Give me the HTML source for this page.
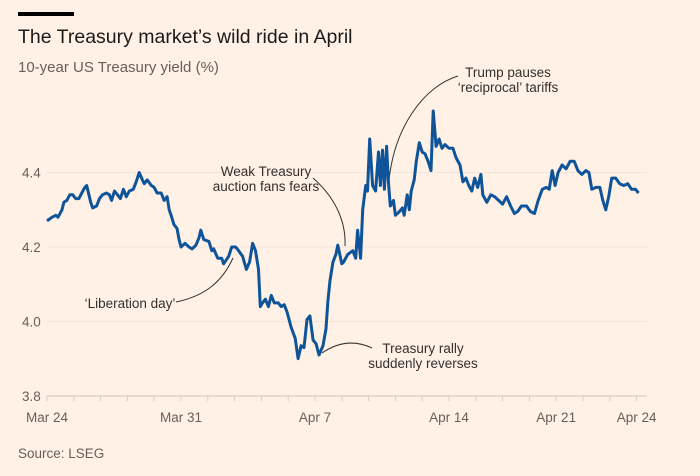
<!DOCTYPE html>
<html><head><meta charset="utf-8"><style>
html,body{margin:0;padding:0;background:#fff1e5;}
svg{display:block;font-family:"Liberation Sans",sans-serif;}
</style></head><body>
<svg id="chart" width="700" height="476" viewBox="0 0 700 476">
<rect x="0" y="0" width="700" height="476" fill="#fff1e5"/>
<rect x="18" y="12" width="56" height="4" fill="#000"/>
<text x="18" y="43" font-size="19.5" fill="#1a1a1a">The Treasury market’s wild ride in April</text>
<text x="18" y="72" font-size="15" fill="#66605c">10-year US Treasury yield (%)</text>
<g id="grid"></g>
<g id="annotations" fill="none" stroke="#333" stroke-width="1">
<path d="M313,178 C338,200 346,225 345,246"/>
<path d="M176,302 C205,296 222,282 233,258"/>
<path d="M322,353 C338,342 355,340 372,348"/>
<path d="M458,76 C425,86 395,125 389,180"/>
</g>
<g font-size="13.5" fill="#33302e">
<text x="266" y="176" text-anchor="middle">Weak Treasury</text>
<text x="266" y="191" text-anchor="middle">auction fans fears</text>
<text x="130" y="308" text-anchor="middle">‘Liberation day’</text>
<text x="423" y="353" text-anchor="middle">Treasury rally</text>
<text x="423" y="368" text-anchor="middle">suddenly reverses</text>
<text x="508" y="77" text-anchor="middle">Trump pauses</text>
<text x="508" y="92" text-anchor="middle">‘reciprocal’ tariffs</text>
</g>
<g id="series"></g>
<text x="18" y="458" font-size="13.5" fill="#66605c">Source: LSEG</text>
</svg>
<script>
const yTicks = [3.8, 4.0, 4.2, 4.4];
const yTickLabels = ["3.8", "4.0", "4.2", "4.4"];
const xTickDays = [0, 5, 10, 15, 19, 22];
const xTickLabels = ["Mar 24", "Mar 31", "Apr 7", "Apr 14", "Apr 21", "Apr 24"];
const tradingDay = [0,.19,.33,.41,.56,.63,.74,.85,.96,1.07,1.19,1.26,1.41,1.48,1.63,1.70,1.85,1.96,2.07,2.22,2.33,2.41,2.52,2.63,2.74,2.85,2.96,3.07,3.22,3.33,3.44,3.56,3.63,3.74,3.89,4.00,4.11,4.26,4.37,4.48,4.56,4.63,4.74,4.85,4.93,5.00,5.15,5.30,5.41,5.56,5.67,5.74,5.85,6.04,6.15,6.22,6.37,6.52,6.59,6.78,6.89,7.04,7.15,7.30,7.44,7.56,7.67,7.78,7.89,7.96,8.04,8.15,8.26,8.37,8.48,8.63,8.74,8.85,8.96,9.11,9.26,9.37,9.48,9.59,9.70,9.81,9.93,10.04,10.15,10.30,10.41,10.48,10.56,10.67,10.78,10.85,11.00,11.07,11.22,11.41,11.52,11.59,11.70,11.78,11.89,11.96,12.04,12.15,12.26,12.37,12.44,12.52,12.59,12.67,12.74,12.81,12.93,13.00,13.15,13.26,13.33,13.44,13.52,13.59,13.70,13.78,13.89,14.00,14.11,14.22,14.33,14.41,14.52,14.63,14.74,14.85,15.00,15.15,15.26,15.41,15.52,15.63,15.74,15.85,15.96,16.07,16.19,16.26,16.41,16.56,16.70,16.85,17.00,17.15,17.30,17.44,17.56,17.70,17.89,18.04,18.19,18.33,18.48,18.63,18.74,18.85,18.96,19.07,19.22,19.37,19.52,19.67,19.81,19.96,20.11,20.22,20.33,20.48,20.63,20.74,20.85,20.96,21.07,21.22,21.37,21.52,21.67,21.81,21.96,22.07];
const yieldPct = [4.27,4.28,4.285,4.28,4.30,4.32,4.325,4.34,4.34,4.33,4.33,4.34,4.36,4.365,4.32,4.305,4.31,4.33,4.34,4.345,4.34,4.325,4.35,4.34,4.33,4.355,4.335,4.35,4.355,4.375,4.40,4.38,4.37,4.38,4.365,4.36,4.345,4.345,4.325,4.335,4.30,4.285,4.26,4.25,4.22,4.20,4.21,4.20,4.195,4.205,4.225,4.245,4.22,4.215,4.19,4.195,4.17,4.17,4.155,4.175,4.20,4.20,4.19,4.175,4.14,4.16,4.21,4.19,4.14,4.04,4.05,4.06,4.04,4.07,4.05,4.05,4.04,4.045,4.025,3.985,3.955,3.90,3.935,3.93,4.005,4.015,3.95,3.94,3.91,3.935,3.98,4.055,4.11,4.16,4.18,4.205,4.155,4.16,4.18,4.19,4.17,4.245,4.17,4.30,4.365,4.35,4.49,4.365,4.35,4.455,4.365,4.46,4.355,4.47,4.375,4.31,4.325,4.285,4.295,4.305,4.285,4.34,4.30,4.35,4.38,4.43,4.48,4.455,4.45,4.43,4.405,4.565,4.47,4.49,4.465,4.475,4.465,4.465,4.44,4.42,4.375,4.385,4.365,4.35,4.385,4.36,4.395,4.34,4.32,4.34,4.335,4.325,4.315,4.335,4.31,4.29,4.295,4.31,4.31,4.295,4.29,4.325,4.355,4.36,4.355,4.405,4.365,4.40,4.42,4.41,4.43,4.43,4.405,4.395,4.405,4.40,4.355,4.36,4.36,4.325,4.30,4.335,4.385,4.385,4.37,4.365,4.37,4.355,4.355,4.345];

const X0 = 47, X1 = 647, PXDAY = 26.8;
const Y38 = 396, PXUNIT = 372.5;
function xScale(d){ return X0 + d * PXDAY; }
function yScale(v){ return Y38 - (v - 3.8) * PXUNIT; }
const NS = "http://www.w3.org/2000/svg";
const grid = document.getElementById("grid");
const series = document.getElementById("series");

yTicks.forEach((t, i) => {
  const y = yScale(t);
  const ln = document.createElementNS(NS, "line");
  ln.setAttribute("x1", X0); ln.setAttribute("x2", X1);
  ln.setAttribute("y1", y); ln.setAttribute("y2", y);
  ln.setAttribute("stroke", i === 0 ? "#d9cdc2" : "#f2e4d8");
  ln.setAttribute("stroke-width", i === 0 ? 1.2 : 1);
  
  
  grid.appendChild(ln);
  const tx = document.createElementNS(NS, "text");
  tx.setAttribute("x", 22); tx.setAttribute("y", y + 5);
  tx.setAttribute("font-size", "13.5"); tx.setAttribute("fill", "#66605c");
  tx.textContent = yTickLabels[i];
  
  
  grid.appendChild(tx);
});
for (let d = 0; d <= 22; d++) {
  const x = xScale(d);
  const tk = document.createElementNS(NS, "line");
  tk.setAttribute("x1", x); tk.setAttribute("x2", x);
  tk.setAttribute("y1", Y38); tk.setAttribute("y2", Y38 + 5);
  tk.setAttribute("stroke", "#d9cdc2");
  
  
  grid.appendChild(tk);
}
xTickDays.forEach((d, i) => {
  const tx = document.createElementNS(NS, "text");
  tx.setAttribute("x", xScale(d)); tx.setAttribute("y", 422);
  tx.setAttribute("text-anchor", "middle");
  tx.setAttribute("font-size", "13.5"); tx.setAttribute("fill", "#66605c");
  tx.textContent = xTickLabels[i];
  
  
  grid.appendChild(tx);
});
let dStr = "";
tradingDay.forEach((d, i) => {
  dStr += (i ? "L" : "M") + xScale(d).toFixed(1) + "," + yScale(yieldPct[i]).toFixed(1);
});
const path = document.createElementNS(NS, "path");
path.setAttribute("d", dStr);
path.setAttribute("fill", "none");
path.setAttribute("stroke", "#0f5499");
path.setAttribute("stroke-width", "3");
path.setAttribute("stroke-linejoin", "round");


series.appendChild(path);
</script>
</body></html>
